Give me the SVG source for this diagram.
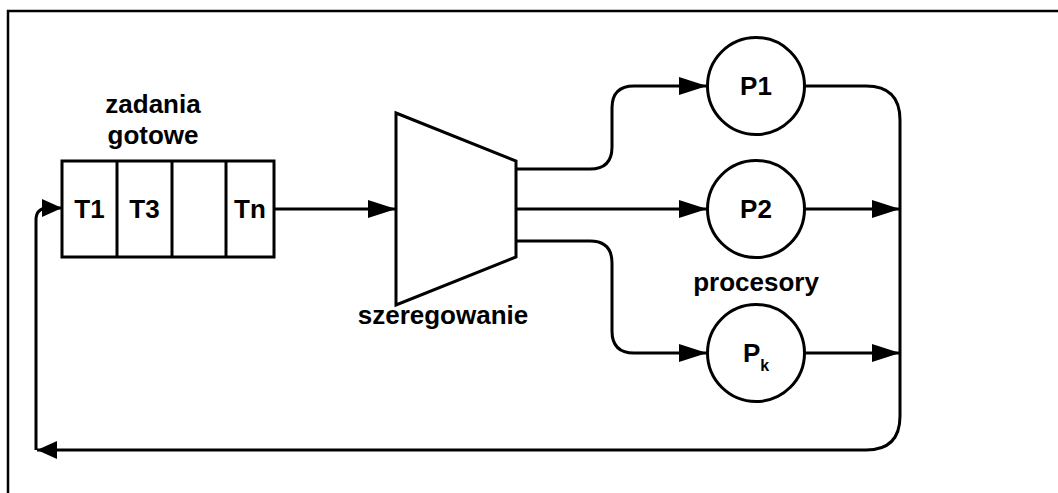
<svg xmlns="http://www.w3.org/2000/svg" width="1058" height="493" viewBox="0 0 1058 493">
<defs>
<marker id="big" markerUnits="userSpaceOnUse" markerWidth="30" markerHeight="20" refX="28" refY="9" orient="auto"><path d="M0,0 L28,9 L0,18 Z" fill="#000"/></marker>
<marker id="small" markerUnits="userSpaceOnUse" markerWidth="22" markerHeight="20" refX="20" refY="9" orient="auto"><path d="M0,0 L20,9 L0,18 Z" fill="#000"/></marker>
<style>
.t{font-family:"Liberation Sans",Arial,sans-serif;font-weight:bold;font-size:26px;fill:#000;text-anchor:middle}
.s{fill:#fff;stroke:#000;stroke-width:3}
.c{fill:none;stroke:#000;stroke-width:3}
</style>
</defs>
<rect x="8" y="11" width="1100" height="520" fill="#fff" stroke="#000" stroke-width="2.5"/>
<g id="connectors">
<path class="c" d="M274,209 H396" marker-end="url(#big)"/>
<path class="c" d="M516,169 H590 Q612,169 612,147 V108 Q612,86 634,86 H707" marker-end="url(#big)"/>
<path class="c" d="M516,209 H707" marker-end="url(#big)"/>
<path class="c" d="M516,241 H590 Q612,241 612,263 V331 Q612,353 634,353 H707" marker-end="url(#big)"/>
<path class="c" d="M804,209 H900" marker-end="url(#big)"/>
<path class="c" d="M804,353 H900" marker-end="url(#big)"/>
<path class="c" d="M804,86 H866 Q900,86 900,120 V416 Q900,450 866,450 H37" marker-end="url(#small)"/>
<path class="c" d="M36,450 V220 Q36,208 48,208 H62" marker-end="url(#small)"/>
</g>
<g id="queue">
<rect class="s" x="62" y="161" width="212" height="96"/>
<line class="c" x1="117" y1="161" x2="117" y2="257"/>
<line class="c" x1="172" y1="161" x2="172" y2="257"/>
<line class="c" x1="226" y1="161" x2="226" y2="257"/>
<text class="t" x="89.5" y="218">T1</text>
<text class="t" x="144.5" y="218">T3</text>
<text class="t" x="250" y="218">Tn</text>
<text class="t" x="153" y="113">zadania</text>
<text class="t" x="153" y="144">gotowe</text>
</g>
<g id="scheduler">
<polygon class="s" points="396,113 516,161 516,257 396,305"/>
<text class="t" x="443" y="324">szeregowanie</text>
</g>
<g id="p1">
<circle class="s" cx="756" cy="86" r="48.5"/>
<text class="t" x="756" y="95">P1</text>
</g>
<g id="p2">
<circle class="s" cx="756" cy="209" r="48.5"/>
<text class="t" x="756" y="218">P2</text>
</g>
<g id="pk">
<circle class="s" cx="756" cy="353" r="48.5"/>
<text class="t" x="756" y="362">P<tspan font-size="16" dy="9">k</tspan></text>
</g>
<text class="t" x="756" y="291">procesory</text>
</svg>
